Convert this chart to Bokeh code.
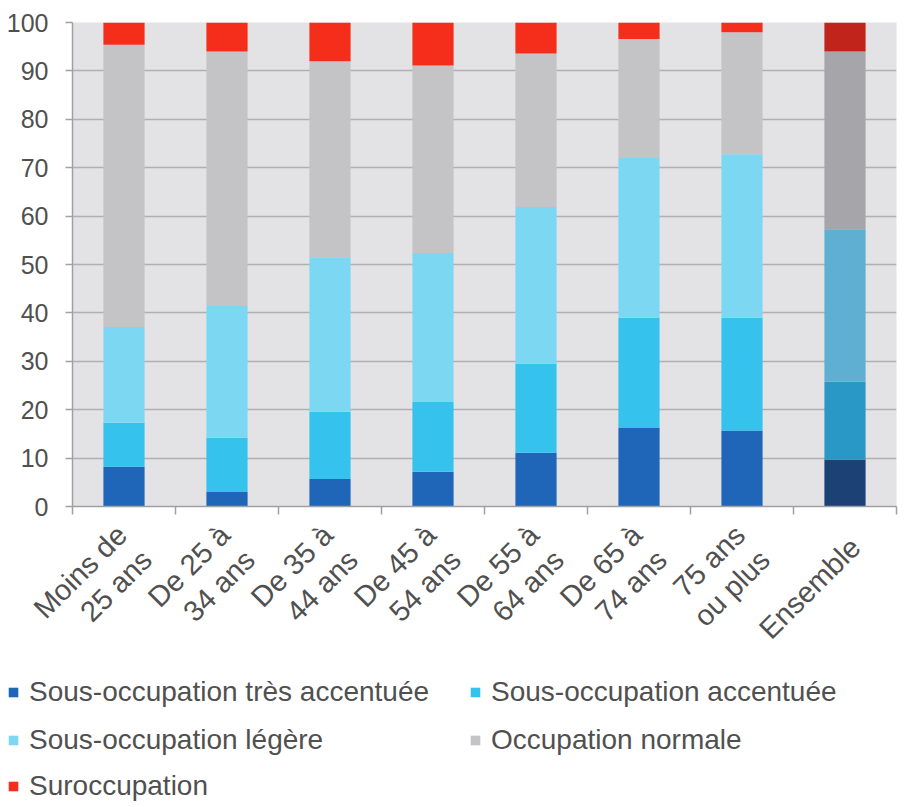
import numpy as np
from bokeh.plotting import figure
from bokeh.layouts import column, row
from bokeh.models import Range1d, FixedTicker, Legend, LegendItem, ColumnDataSource
from bokeh.embed import file_html
from bokeh.resources import INLINE

categories = ["Moins de\n25 ans", "De 25 à\n34 ans", "De 35 à\n44 ans", "De 45 à\n54 ans",
              "De 55 à\n64 ans", "De 65 à\n74 ans", "75 ans\nou plus", "Ensemble"]

series_names = ["Sous-occupation très accentuée", "Sous-occupation accentuée",
                "Sous-occupation légère", "Occupation normale", "Suroccupation"]

tres_accentuee = [8.2, 3.1, 5.7, 7.2, 11.1, 16.3, 15.7, 9.7]
accentuee = [9.1, 11.1, 13.9, 14.4, 18.4, 22.7, 23.3, 16.1]
legere = [19.8, 27.2, 31.9, 30.8, 32.4, 33.0, 33.8, 31.5]
normale = [58.3, 52.6, 40.5, 38.7, 31.7, 24.6, 25.2, 36.7]
suroccupation = [4.6, 6.0, 8.0, 8.9, 6.4, 3.4, 2.0, 6.0]

series_values = [tres_accentuee, accentuee, legere, normale, suroccupation]

colors = ["#2066B8", "#35C3EE", "#7CD7F3", "#C4C4C7", "#F42E1A"]
colors_ensemble = ["#1C4174", "#2A98C6", "#5FAFD2", "#A6A6AA", "#C0241A"]

xs = [i + 0.5 for i in range(len(categories))]
font = "Liberation Sans"
text_color = "#505050"

p = figure(width=898, height=676,
           x_range=Range1d(0, len(categories)), y_range=Range1d(0, 100),
           output_backend="svg", toolbar_location=None,
           min_border_left=72, min_border_top=22, min_border_right=2, min_border_bottom=170,
           background_fill_color="#E3E3E6", border_fill_color="white", outline_line_color=None)

bottom = np.zeros(len(categories))
for k, (name, vals) in enumerate(zip(series_names, series_values)):
    vals = np.array(vals)
    top = bottom + vals
    cols = [colors[k]] * (len(categories) - 1) + [colors_ensemble[k]]
    src = ColumnDataSource(dict(x=xs, bottom=bottom.copy(), top=top, color=cols))
    p.vbar(x="x", bottom="bottom", top="top", width=0.4, fill_color="color",
           line_color=None, source=src)
    bottom = top

# x axis: labels slightly offset to the right of bar centres, ticks between categories
label_pos = [x + 0.1 for x in xs]
p.xaxis.ticker = FixedTicker(ticks=label_pos, minor_ticks=list(range(len(categories) + 1)))
p.xaxis.major_label_overrides = {x: c for x, c in zip(label_pos, categories)}
p.xaxis.major_label_orientation = np.pi / 4
p.xaxis.major_tick_line_color = None
p.xaxis.major_tick_out = 0
p.xaxis.major_tick_in = 0
p.xaxis.minor_tick_in = 0
p.xaxis.minor_tick_out = 8
p.xaxis.minor_tick_line_color = "#A0A0A3"
p.xaxis.minor_tick_line_width = 1.5
p.xaxis.axis_line_color = "#A0A0A3"
p.xaxis.axis_line_width = 1.5
p.xaxis.major_label_text_font = font
p.xaxis.major_label_text_font_size = "29px"
p.xaxis.major_label_text_color = text_color
p.xaxis.major_label_text_align = "right"
p.xaxis.major_label_text_line_height = 1.1
p.xaxis.major_label_standoff = 28

p.yaxis.ticker = FixedTicker(ticks=list(range(0, 101, 10)))
p.yaxis.minor_tick_line_color = None
p.yaxis.major_tick_in = 0
p.yaxis.major_tick_out = 7
p.yaxis.major_tick_line_color = "#A0A0A3"
p.yaxis.major_tick_line_width = 1.5
p.yaxis.axis_line_color = "#A0A0A3"
p.yaxis.axis_line_width = 1.5
p.yaxis.major_label_text_font = font
p.yaxis.major_label_text_font_size = "25px"
p.yaxis.major_label_text_color = text_color
p.yaxis.major_label_standoff = 17

p.xgrid.grid_line_color = None
p.ygrid.ticker = FixedTicker(ticks=list(range(10, 100, 10)))
p.ygrid.grid_line_color = "#B0B0B3"
p.ygrid.grid_line_width = 1.5

# legend panel below the chart
leg = figure(width=898, height=129, x_range=Range1d(0, 1), y_range=Range1d(0, 1),
             x_axis_type=None, y_axis_type=None, output_backend="svg", toolbar_location=None,
             min_border=0, min_border_left=0, min_border_right=0, min_border_top=0,
             min_border_bottom=0, outline_line_color=None, background_fill_color="white",
             border_fill_color="white")
leg.xgrid.visible = False
leg.ygrid.visible = False
items = []
for k, name in enumerate(series_names):
    # zero-height proxy bar, only used to give the legend its swatch colour
    r = leg.vbar(x=[0.5], bottom=[0], top=[0], width=0.0, fill_color=colors[k], line_color=None)
    items.append(LegendItem(label=name, renderers=[r]))

rows = [items[0:2], items[2:4], items[4:5]]
offsets = [97, 49, 3]
for row_items, yoff in zip(rows, offsets):
    lg = Legend(items=row_items, orientation="horizontal", location=(7, yoff),
                label_text_font=font, label_text_font_size="28px", label_text_color=text_color,
                glyph_width=12, glyph_height=12, label_standoff=10, label_height=30,
                label_width=422, spacing=18, padding=0, margin=0,
                border_line_color=None, background_fill_alpha=0)
    leg.add_layout(lg)

layout = column(p, row(leg), spacing=0)
open("out.html", "w").write(file_html(layout, INLINE))
